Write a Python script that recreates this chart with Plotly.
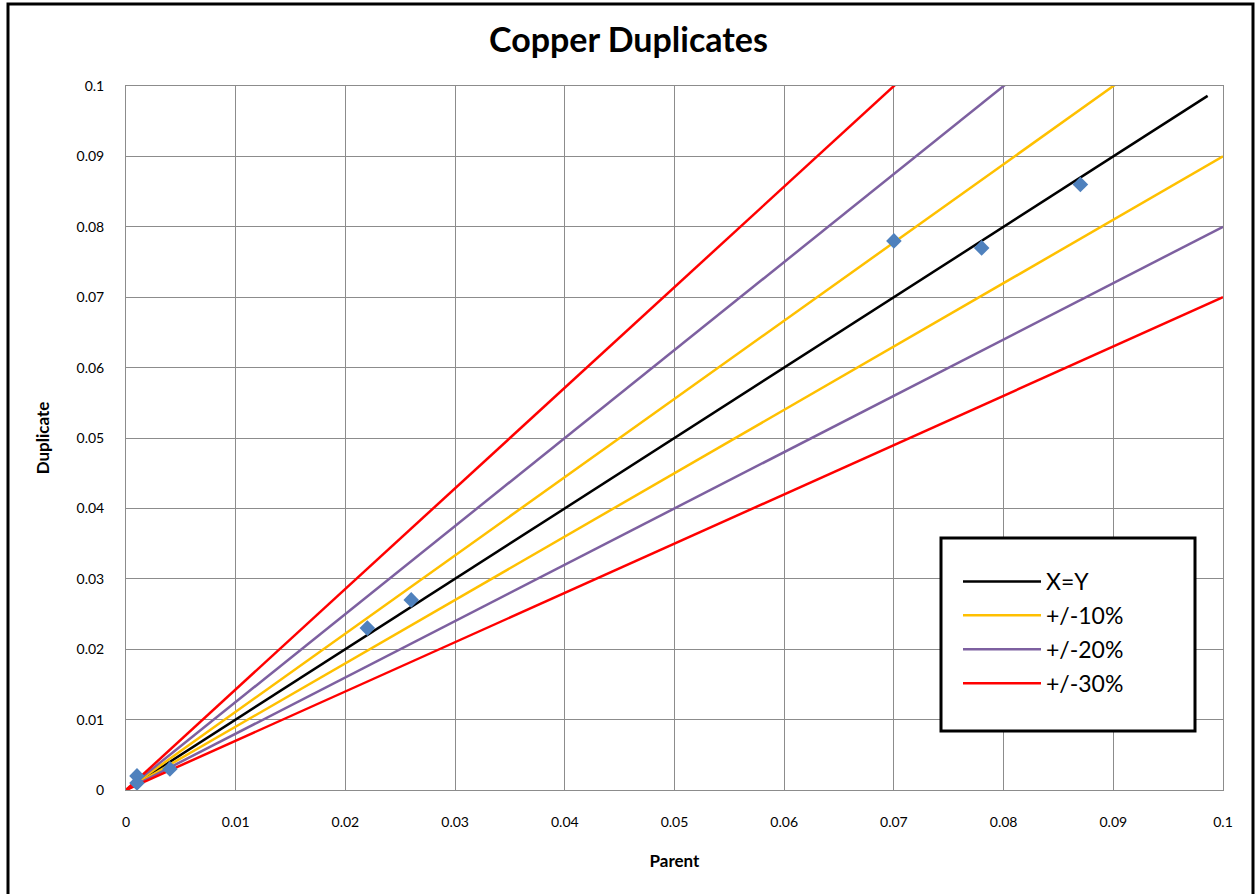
import plotly.graph_objects as go

# Data
parent = [0.001, 0.001, 0.004, 0.022, 0.026, 0.070, 0.078, 0.087]
duplicate = [0.002, 0.001, 0.003, 0.023, 0.027, 0.078, 0.077, 0.086]

line_x = [0, 0.1]
xy_x = [0, 0.0986]
factors_upper = {"+/-10%": 1 / 0.9, "+/-20%": 1 / 0.8, "+/-30%": 1 / 0.7}
factors_lower = {"+/-10%": 0.9, "+/-20%": 0.8, "+/-30%": 0.7}
colors = {"X=Y": "#000000", "+/-10%": "#FFC000", "+/-20%": "#7D60A0", "+/-30%": "#FF0000"}

ticks = [0, 0.01, 0.02, 0.03, 0.04, 0.05, 0.06, 0.07, 0.08, 0.09, 0.1]
tick_text = ["0", "0.01", "0.02", "0.03", "0.04", "0.05", "0.06", "0.07", "0.08", "0.09", "0.1"]

fig = go.Figure()

fig.add_trace(go.Scatter(x=xy_x, y=xy_x, mode="lines", name="X=Y",
                         line=dict(color=colors["X=Y"], width=2.5), legendgroup="xy",
                         legendrank=1))
rank = 2
for name in ["+/-10%", "+/-20%", "+/-30%"]:
    fig.add_trace(go.Scatter(x=line_x, y=[v * factors_upper[name] for v in line_x], mode="lines",
                             name=name, line=dict(color=colors[name], width=2.5),
                             legendgroup=name, legendrank=rank))
    fig.add_trace(go.Scatter(x=line_x, y=[v * factors_lower[name] for v in line_x], mode="lines",
                             name=name, line=dict(color=colors[name], width=2.5),
                             legendgroup=name, showlegend=False))
    rank += 1

fig.add_trace(go.Scatter(x=parent, y=duplicate, mode="markers", name="Duplicates",
                         marker=dict(symbol="diamond", size=12, color="#4F81BD"),
                         showlegend=False))

axis_common = dict(range=[0, 0.1], tickvals=ticks, ticktext=tick_text,
                   showgrid=True, gridcolor="#8C8C8C", gridwidth=1,
                   showline=True, linecolor="#8C8C8C", linewidth=1, mirror=True,
                   zeroline=False, tickfont=dict(family="Lato", size=14, color="#000000"),
                   ticks="")

fig.update_xaxes(**axis_common, ticklabelstandoff=19,
                 title=dict(text="<b>Parent</b>", font=dict(family="Lato", size=17, color="#000"), standoff=26))
fig.update_yaxes(**axis_common, ticklabelstandoff=18,
                 title=dict(text="<b>Duplicate</b>", font=dict(family="Lato", size=17, color="#000"), standoff=22))

W, H = 1257, 894
L, R, T, B = 126, 34, 86, 104
pw, ph = W - L - R, H - T - B

def px(x):
    return (x - L) / pw

def py(y):
    return (H - B - y) / ph

fig.add_shape(type="rect", xref="paper", yref="paper",
              x0=px(8), x1=px(1253), y0=py(897), y1=py(4),
              line=dict(color="black", width=3), fillcolor="rgba(0,0,0,0)", layer="below")
fig.add_shape(type="rect", xref="paper", yref="paper",
              x0=px(941), x1=px(1195), y0=py(731), y1=py(538),
              line=dict(color="black", width=3), fillcolor="white", layer="above")

fig.update_layout(
    width=W, height=H,
    margin=dict(l=L, r=R, t=T, b=B),
    paper_bgcolor="white", plot_bgcolor="white",
    title=dict(text="<b>Copper Duplicates</b>", x=0.5, xanchor="center", y=1 - 40 / H, yanchor="middle",
               font=dict(family="Lato", size=34, color="#000")),
    legend=dict(x=px(958), y=py(560), xanchor="left", yanchor="top",
                bgcolor="rgba(0,0,0,0)", borderwidth=0, itemwidth=78,
                font=dict(family="Lato", size=23, color="#000"), tracegroupgap=1),
    showlegend=True,
)

fig.write_html("out.html")
